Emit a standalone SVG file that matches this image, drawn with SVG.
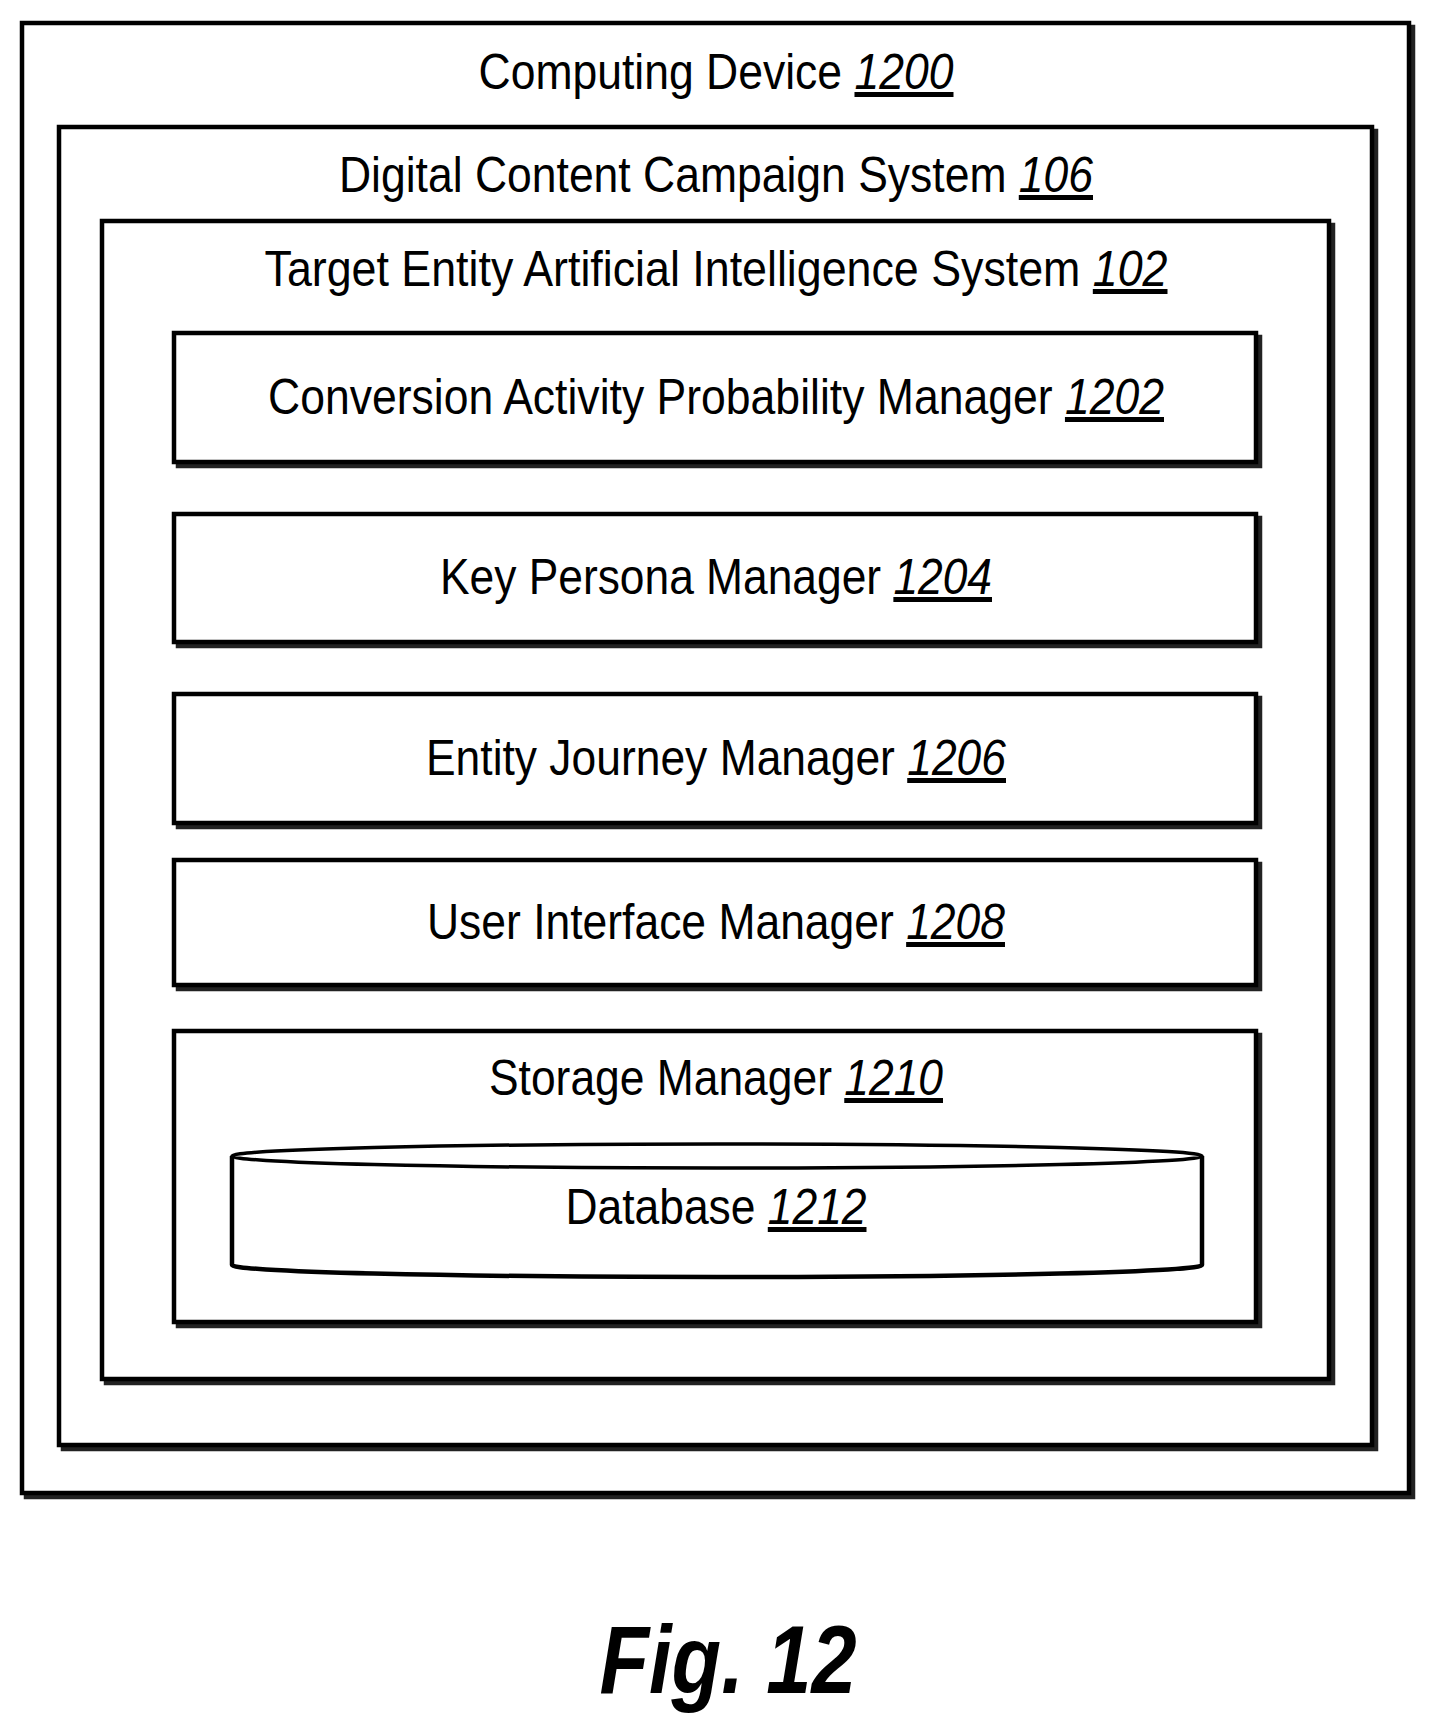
<svg xmlns="http://www.w3.org/2000/svg" width="1439" height="1736" viewBox="0 0 1439 1736">
<style>
.b{fill:#fff;stroke:#000;stroke-width:4.5}
.s{fill:none;stroke:#222;stroke-width:4.5}
.t{font-family:"Liberation Sans",Arial,sans-serif;font-size:50px;fill:#000;text-anchor:middle}
.u{font-style:italic;text-decoration:underline}
.f{font-family:"Liberation Sans",Arial,sans-serif;font-size:96px;font-weight:bold;font-style:italic;text-anchor:middle}
</style>
<rect width="1439" height="1736" fill="#fff"/>
<g id="computing-device">
<rect class="s" x="26" y="27" width="1387" height="1470"/>
<rect class="b" x="22" y="23" width="1387" height="1470"/>
<text class="t" x="716" y="89" textLength="475" lengthAdjust="spacingAndGlyphs">Computing Device <tspan class="u">1200</tspan></text>
</g>
<g id="campaign-system">
<rect class="s" x="63" y="131" width="1313" height="1318"/>
<rect class="b" x="59" y="127" width="1313" height="1318"/>
<text class="t" x="716" y="192" textLength="754" lengthAdjust="spacingAndGlyphs">Digital Content Campaign System <tspan class="u">106</tspan></text>
</g>
<g id="ai-system">
<rect class="s" x="106" y="225" width="1227" height="1158"/>
<rect class="b" x="102" y="221" width="1227" height="1158"/>
<text class="t" x="716" y="286" textLength="903" lengthAdjust="spacingAndGlyphs">Target Entity Artificial Intelligence System <tspan class="u">102</tspan></text>
</g>
<g id="m1202">
<rect class="s" x="178" y="337" width="1082" height="129"/>
<rect class="b" x="174" y="333" width="1082" height="129"/>
<text class="t" x="716" y="414" textLength="896" lengthAdjust="spacingAndGlyphs">Conversion Activity Probability Manager <tspan class="u">1202</tspan></text>
</g>
<g id="m1204">
<rect class="s" x="178" y="518" width="1082" height="128"/>
<rect class="b" x="174" y="514" width="1082" height="128"/>
<text class="t" x="716" y="594" textLength="552" lengthAdjust="spacingAndGlyphs">Key Persona Manager <tspan class="u">1204</tspan></text>
</g>
<g id="m1206">
<rect class="s" x="178" y="698" width="1082" height="129"/>
<rect class="b" x="174" y="694" width="1082" height="129"/>
<text class="t" x="716" y="775" textLength="580" lengthAdjust="spacingAndGlyphs">Entity Journey Manager <tspan class="u">1206</tspan></text>
</g>
<g id="m1208">
<rect class="s" x="178" y="864" width="1082" height="125"/>
<rect class="b" x="174" y="860" width="1082" height="125"/>
<text class="t" x="716" y="939" textLength="578" lengthAdjust="spacingAndGlyphs">User Interface Manager <tspan class="u">1208</tspan></text>
</g>
<g id="m1210">
<rect class="s" x="178" y="1035" width="1082" height="291"/>
<rect class="b" x="174" y="1031" width="1082" height="291"/>
<text class="t" x="716" y="1095" textLength="454" lengthAdjust="spacingAndGlyphs">Storage Manager <tspan class="u">1210</tspan></text>
</g>
<g id="db1212">
<path d="M232,1156 L232,1265 A485,12 0 0 0 1202,1265 L1202,1156" fill="#fff" stroke="#000" stroke-width="4.5"/>
<ellipse cx="717" cy="1156" rx="485" ry="12" fill="#fff" stroke="#000" stroke-width="3.5"/>
<text class="t" x="716" y="1224" textLength="301" lengthAdjust="spacingAndGlyphs">Database <tspan class="u">1212</tspan></text>
</g>
<g id="connectors"/>
<text class="f" x="728" y="1693" textLength="257" lengthAdjust="spacingAndGlyphs">Fig. 12</text>
</svg>
